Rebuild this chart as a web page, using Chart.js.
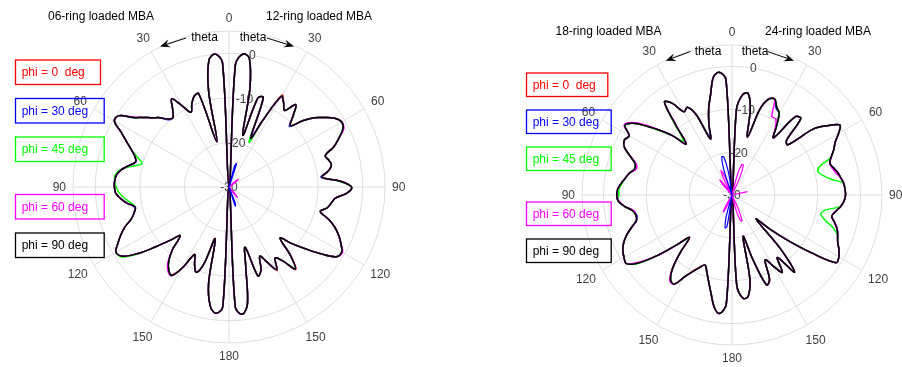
<!DOCTYPE html>
<html>
<head>
<meta charset="utf-8">
<title>MBA radiation patterns</title>
<script src="https://cdn.jsdelivr.net/npm/chart.js@4.4.1/dist/chart.umd.min.js"></script>
<style>
  html, body { margin: 0; padding: 0; background: #fff; }
  #wrap { position: relative; width: 902px; height: 367px; }
  #wrap canvas { position: absolute; left: 0; top: 0; }
</style>
</head>
<body>
<div id="wrap">
  <canvas id="polarLeft" width="902" height="367"></canvas>
  <canvas id="polarRight" width="902" height="367"></canvas>
</div>
<script>
// compass angle of each sample (deg, clockwise from top); 0..180 = theta on the right,
// 183..357 = the mirrored plane on the left (theta = 360 - angle)
const angles = [0,3,6,9,12,15,18,21,24,27,30,33,36,39,42,45,48,51,54,57,60,63,66,69,72,75,78,81,84,87,
  90,93,96,99,102,105,108,111,114,117,120,123,126,129,132,135,138,141,144,147,150,153,156,159,162,165,168,171,174,177,
  180,183,186,189,192,195,198,201,204,207,210,213,216,219,222,225,228,231,234,237,240,243,246,249,252,255,258,261,264,267,
  270,273,276,279,282,285,288,291,294,297,300,303,306,309,312,315,318,321,324,327,330,333,336,339,342,345,348,351,354,357];

const thetaTicks = [0, 30, 60, 90, 120, 150, 180, 150, 120, 90, 60, 30];
const radialTicks = [-30, -20, -10, 0];
const radialGrid = [-30, -20, -10, 0, 5];

const phiLabels = ['phi = 0  deg', 'phi = 30 deg', 'phi = 45 deg', 'phi = 60 deg', 'phi = 90 deg'];
const phiColors = ['#ff0000', '#0000ff', '#00ff00', '#ff00ff', '#000000'];

// gain in dB, 06-ring (left half) / 12-ring (right half) loaded MBA
const left0 = [-30,-2.5,0,-0.8,-7.5,-18,-9,-8.5,-18,-13,-6.2,-7.5,-8.8,-6.2,-8.5,-10.5,-7.8,-5.3,-3.5,-1.7,-0.8,-1.3,-3,-4.8,-7.3,-6.8,-6.5,-7.5,-9,-5,-2.5,-3.5,-6,-6.8,-7.5,-8.8,-6.5,-4.5,-3,-1.8,-0.8,-1.3,-4.5,-8,-11,-13.8,-9.3,-6.2,-9.5,-11,-8.4,-11,-13,-10,-9,-16,-12,-3.5,-1.3,-3,-30,
  -3,-1.5,-3,-8,-18,-12,-9.5,-11,-13,-9,-6.5,-7,-8.5,-11,-14.5,-12,-8.5,-4.5,-1.5,-0.7,-2,-3.4,-5,-7,-8,-8.5,-6.8,-5.5,-4.5,-4.3,-4.3,-4.6,-5.5,-7,-8.3,-7.8,-6.5,-4.8,-2.8,-0.3,-0.6,-3.5,-5.2,-6.8,-8,-9.5,-10,-8.5,-6.4,-9,-11.2,-9.5,-8.2,-8,-19.5,-8,-1.2,0,-2];
const left30 = [-30,-2.5,0,-0.8,-7.5,-18,-9,-8.5,-17.5,-13,-6.5,-7.5,-8.8,-6.2,-8.5,-10.8,-7.8,-5.3,-3.5,-1.7,-0.8,-1.3,-3,-4.8,-7.3,-6.8,-6.5,-7.5,-9.2,-5,-2.5,-3.5,-6,-6.8,-7.5,-8.8,-6.5,-4.5,-3,-1.8,-0.8,-1.3,-4.5,-8,-11,-13.8,-9.5,-6.3,-9.5,-11,-8.6,-11,-13,-10,-9,-16,-12,-3.5,-1.3,-3,-30,
  -3,-1.5,-3,-8,-18,-12,-9.5,-11,-13,-9,-6.3,-7,-8.5,-11,-14.5,-12,-8.5,-4.5,-1.5,-0.7,-2,-3.4,-5,-7,-8,-8.3,-6.8,-5.5,-4.5,-4.3,-4.3,-4.6,-5.5,-7,-8.3,-7.8,-6.5,-4.8,-2.8,-0.3,-0.6,-3.5,-5.2,-6.8,-8,-9.7,-10,-8.5,-6.4,-9,-11.2,-9.5,-8.2,-8,-19.5,-8,-1.2,0,-2];
const left45 = [-30,-2.5,0,-0.8,-7.5,-18,-9,-8.5,-19,-13,-6.5,-7.5,-8.8,-6.2,-8.3,-10.5,-7.8,-5.3,-3.5,-1.7,-0.8,-1.3,-3,-4.8,-7.3,-6.8,-6.5,-7.5,-9,-5.3,-2.5,-3.5,-6,-6.8,-7.5,-8.8,-6.5,-4.5,-3,-1.8,-0.8,-1.3,-4.5,-8,-11,-13.8,-9.5,-6.5,-9.5,-11,-8.6,-11,-13,-10,-9,-16,-12,-3.5,-1.3,-3,-30,
  -3,-1.5,-3,-8,-18,-12,-9.5,-11,-13,-9,-6.3,-7,-8.5,-11,-14.5,-12,-8.5,-4.2,-1.2,-0.7,-2,-3.4,-5,-7,-8,-8.5,-7.6,-6.4,-5.3,-4.7,-4.3,-4.3,-5.3,-7.6,-9.8,-8.4,-6.5,-4.8,-2.8,-0.3,-0.6,-3.5,-5.2,-6.8,-8,-9.5,-10,-8.5,-6.4,-9,-11.2,-9.5,-8.2,-8,-19.5,-8,-1.2,0,-2];
const left60 = [-30,-2.5,0,-0.8,-7.5,-18,-9,-8.5,-18,-13,-6.6,-7.5,-8.8,-6.2,-8.5,-10.5,-7.8,-5.3,-3.5,-1.7,-0.8,-1.1,-3,-4.8,-7.3,-6.8,-6.5,-7.5,-9,-5,-2.5,-3.5,-6,-6.8,-7.5,-8.8,-6.5,-4.5,-3,-1.8,-0.6,-1.3,-4.5,-8,-11,-13.8,-9.5,-6.3,-9.5,-11,-8.6,-11,-13,-10,-9,-16,-12,-3.5,-1.3,-3,-30,
  -3,-1.5,-3,-8,-18,-12,-9.5,-11,-13,-9,-6.3,-6.7,-8.2,-11,-14.5,-12,-8.5,-4.5,-1.5,-0.7,-2,-3.4,-5,-7,-8,-8.5,-6.8,-5.5,-4.5,-4.3,-4.3,-4.6,-5.5,-7,-8.3,-7.8,-6.5,-4.8,-2.8,-0.3,-0.6,-3.3,-5.2,-6.8,-8,-9.5,-10,-8.5,-6.4,-9,-11.2,-9.5,-8.2,-8,-19.5,-8,-1.2,0,-2];
const left90 = [-30,-2.5,0,-0.8,-7.5,-18,-9,-8.5,-18,-13,-6.5,-7.5,-8.8,-6.2,-8.5,-10.5,-7.8,-5.3,-3.5,-1.7,-0.8,-1.3,-3,-4.8,-7.3,-6.8,-6.5,-7.5,-9,-5,-2.5,-3.5,-6,-6.8,-7.5,-8.8,-6.5,-4.5,-3,-1.8,-0.8,-1.3,-4.5,-8,-11,-13.8,-9.5,-6.3,-9.5,-11,-8.6,-11,-13,-10,-9,-16,-12,-3.5,-1.3,-3,-30,
  -3,-1.5,-3,-8,-18,-12,-9.5,-11,-13,-9,-6.3,-7,-8.5,-11,-14.5,-12,-8.5,-4.5,-1.5,-0.7,-2,-3.4,-5,-7,-8,-8.5,-6.8,-5.5,-4.5,-4.3,-4.3,-4.6,-5.5,-7,-8.3,-7.8,-6.5,-4.8,-2.8,-0.3,-0.6,-3.5,-5.2,-6.8,-8,-9.5,-10,-8.5,-6.4,-9,-11.2,-9.5,-8.2,-8,-19.5,-8,-1.2,0,-2];

// gain in dB, 18-ring (left half) / 24-ring (right half) loaded MBA
const right0 = [-30,-10,-6.5,-6,-9.5,-16,-9,-6,-5.5,-7,-8,-11,-13.5,-6.5,-6,-12,-12.5,-5.5,-2.5,0,-1.3,-3,-4,-5.2,-6,-5.5,-4.8,-4.3,-3.8,-3.6,-3.5,-3.8,-4.5,-5.5,-6.2,-5.2,-4.2,-3.6,-3,-2,-1.2,-1,-6.8,-13,-18,-22,-13,-6.8,-12,-8.5,-11,-13,-8.3,-7.5,-14,-20,-10,-6,-5.8,-9,-30,
  -4.5,-2.2,-3.5,-6.5,-9,-11,-12.5,-11.5,-10.2,-8,-5.2,-5.6,-7.8,-12,-16,-12.5,-7.5,-3,-0.6,-0.9,-1.4,-2.3,-3.6,-5.3,-6.9,-7.1,-6.5,-4.8,-3.4,-3.1,-3.3,-4,-4.8,-5.5,-6.5,-6.2,-4.5,-2.5,-1.8,-2.3,-0.2,-1.5,-4.5,-7.5,-10.5,-14,-9.5,-3.2,-4.5,-7.6,-7,-9.5,-16,-12.5,-9,-6,-2.2,-1.2,-3];
const right30 = [-30,-10,-6.5,-6,-9.5,-16,-9,-6,-5.5,-7.3,-8,-11,-13.5,-6.5,-6,-12,-12.5,-5.5,-2.5,0,-1.3,-3,-4,-5.2,-6,-5.5,-4.8,-4.3,-3.8,-3.6,-3.5,-3.8,-4.5,-5.5,-6.2,-5.2,-4.2,-3.6,-3,-2,-1.2,-1,-7,-13,-18,-22,-13,-6.8,-12,-8.5,-11,-13,-8.5,-7.5,-14,-20,-10,-6,-5.8,-9,-30,
  -4.5,-2.2,-3.5,-6.5,-9,-11,-12.5,-11.5,-10,-8,-5.2,-5.6,-8,-12,-15.5,-12.5,-7.5,-3,-0.6,-0.9,-1.4,-2.3,-3.6,-5.3,-6.9,-7.3,-6.5,-4.8,-3.4,-3.1,-3.3,-4,-4.8,-5.5,-6.5,-6.2,-4.5,-2.5,-1.8,-2.3,-0.2,-1.5,-4.5,-7.5,-10.5,-14,-9.5,-3.2,-4.5,-7.6,-7,-9.5,-15.5,-12.5,-9,-6,-2.2,-1.2,-3];
const right45 = [-30,-10,-6.5,-6,-9.5,-16,-9,-6,-5.5,-7,-8,-11,-13.5,-6.5,-6,-12,-12.5,-5.5,-2.5,0,-1.3,-3,-4,-5.2,-8.5,-9.2,-8.2,-6.5,-3.8,-3.6,-3.5,-3.8,-4.5,-7.8,-8.8,-7.6,-5.2,-3.6,-3,-2,-1.2,-1,-7,-13,-18,-22,-13,-6.8,-12,-8.5,-11,-13,-8.5,-7.5,-14,-20,-10,-6,-5.8,-9,-30,
  -4.5,-2.2,-3.5,-6.5,-9,-11,-12.5,-11.5,-10,-8,-5.2,-5.6,-8,-12,-15.6,-12.5,-7.5,-2.8,-0.6,-0.9,-1.4,-2.3,-3.6,-5.3,-6.9,-7.1,-6.5,-4.8,-3.4,-3.6,-3.6,-4.2,-4.8,-5.5,-6.5,-6.2,-4.5,-2.5,-1.8,-2.3,-0.2,-1.5,-4.5,-7.8,-10.5,-13,-8.8,-3.2,-4.5,-7.6,-7,-9.5,-16,-12.5,-9,-6,-2.2,-1.2,-3];
const right60 = [-30,-10,-6.5,-6,-9.5,-16,-9,-6,-5.5,-9.5,-9.5,-11.5,-13.5,-6.5,-6,-12,-12.5,-5.5,-2.5,0,-1.3,-3,-4,-5.2,-6,-5.8,-5.2,-4.3,-3.8,-3.6,-3.5,-3.8,-4.5,-5.5,-6.2,-5.2,-4.2,-3.6,-3,-2,-1.2,-1,-7,-13,-18,-22,-13,-6.8,-12,-8.5,-11,-13,-8.5,-7.5,-14,-20,-10,-6,-5.8,-9,-30,
  -4.5,-2.2,-3.5,-6.5,-9,-11,-12.5,-11.5,-10,-8,-5.2,-5.3,-8,-12,-16,-12.5,-7.5,-3.4,-0.6,-0.9,-1.4,-2.3,-3.6,-5.3,-6.9,-7.1,-6.8,-4.8,-3.6,-3.1,-3.3,-4,-4.8,-5.5,-6.8,-6.5,-4.5,-2.5,-1.8,-2.3,0,-1.2,-4,-7.5,-10.5,-14,-9.5,-3.2,-4.5,-7.6,-7,-9.5,-16,-12.5,-9,-6,-2.2,-1.2,-3];
const right90 = [-30,-10,-6.5,-6,-9.5,-16,-9,-6,-5.5,-7,-8,-11,-13.5,-6.5,-6,-12,-12.5,-5.5,-2.5,0,-1.3,-3,-4,-5.2,-6,-5.5,-4.8,-4.3,-3.8,-3.6,-3.5,-3.8,-4.5,-5.5,-6.2,-5.2,-4.2,-3.6,-3,-2,-1.2,-1,-7,-13,-18,-22,-13,-6.8,-12,-8.5,-11,-13,-8.5,-7.5,-14,-20,-10,-6,-5.8,-9,-30,
  -4.5,-2.2,-3.5,-6.5,-9,-11,-12.5,-11.5,-10,-8,-5.2,-5.6,-8,-12,-16,-12.5,-7.5,-3,-0.6,-0.9,-1.4,-2.3,-3.6,-5.3,-6.9,-7.1,-6.5,-4.8,-3.4,-3.1,-3.3,-4,-4.8,-5.5,-6.5,-6.2,-4.5,-2.5,-1.8,-2.3,-0.2,-1.5,-4.5,-7.5,-10.5,-14,-9.5,-3.2,-4.5,-7.6,-7,-9.5,-16,-12.5,-9,-6,-2.2,-1.2,-3];

// small low-level lobes close to the -30 dB centre (angle -> dB)
const left30Petals = {12: -30, 15: -25, 18: -24.5, 21: -30, 156: -30, 159: -26, 162: -25.5, 165: -30};
const left60Petals = {45: -30, 48: -28, 51: -27.3, 54: -28.5, 57: -30, 135: -30, 138: -28.2, 141: -27, 144: -28.5, 147: -30};
const right30Petals = {186: -30, 189: -22.5, 192: -22.2, 195: -25, 198: -30, 339: -30, 342: -24, 345: -20.8, 348: -21, 351: -24.5, 354: -30};
const right60Petals = {12: -30, 15: -25, 18: -22.5, 21: -22.6, 24: -25.5, 27: -30, 75: -30, 78: -26.3, 81: -30,
  153: -30, 156: -26, 159: -23.5, 162: -23.8, 165: -26.5, 168: -30,
  201: -30, 204: -27, 207: -25.6, 210: -27.5, 213: -30,
  315: -30, 318: -27, 321: -25.5, 324: -27.5, 327: -30, 330: -30, 333: -25.5, 336: -23.7, 339: -25.5, 342: -30};

const gridColor = '#dedede';
const axisText = '#404040';
const font12 = '12px "Liberation Sans", Arial, Helvetica, sans-serif';

function buildSets(series, petals) {
  const sets = series.map((vals, k) => ({
    label: phiLabels[k],
    data: vals,
    borderColor: phiColors[k],
    borderWidth: 1.5,
    pointRadius: 0,
    fill: false,
    tension: 0.35,
    order: series.length - k   // phi = 90 ends up on top
  }));
  petals.forEach(([k, p]) => {
    sets.push({
      label: phiLabels[k],
      data: angles.map(a => (a in p ? p[a] : null)),
      borderColor: phiColors[k],
      borderWidth: 1.2,
      pointRadius: 0,
      fill: false,
      spanGaps: false,
      tension: 0.35,
      order: 0
    });
  });
  return sets;
}

function drawArrow(ctx, x0, y0, x1, y1) {
  const a = Math.atan2(y1 - y0, x1 - x0);
  const c = Math.cos(a), s = Math.sin(a);
  const L = 10, W = 4;
  ctx.beginPath();
  ctx.moveTo(x0, y0);
  ctx.lineTo(x1 - 6 * c, y1 - 6 * s);
  ctx.stroke();
  ctx.beginPath();
  ctx.moveTo(x1, y1);
  ctx.lineTo(x1 - L * c + W * s, y1 - L * s - W * c);
  ctx.lineTo(x1 - 0.65 * L * c, y1 - 0.65 * L * s);
  ctx.lineTo(x1 - L * c - W * s, y1 - L * s + W * c);
  ctx.closePath();
  ctx.fill();
}

const polarDecor = {
  id: 'polarDecor',
  beforeDatasetsDraw(chart, args, o) {
    const sc = chart.scales.r;
    const ctx = chart.ctx;
    ctx.save();
    ctx.font = font12;
    ctx.fillStyle = axisText;
    ctx.textAlign = 'center';
    ctx.textBaseline = 'middle';
    // dB labels on a spoke just clockwise of the top
    const ta = o.tickAngle * Math.PI / 180;
    radialTicks.forEach(v => {
      const d = sc.getDistanceFromCenterForValue(v);
      ctx.fillText(String(v), sc.xCenter + d * Math.sin(ta), sc.yCenter - d * Math.cos(ta) + 0.5);
    });
    // theta labels every 30 deg round the rim
    thetaTicks.forEach((t, k) => {
      const idx = angles.indexOf(k * 30);
      const ang = sc.getIndexAngle(idx);
      const halfW = ctx.measureText(String(t)).width / 2;
      const off = 7 + halfW * Math.abs(Math.sin(ang)) + 6 * Math.abs(Math.cos(ang));
      const p = sc.getPointPosition(idx, sc.drawingArea + off);
      ctx.fillText(String(t), p.x, p.y + 0.5);
    });
    ctx.restore();
  },
  afterDraw(chart, args, o) {
    const ctx = chart.ctx;
    ctx.save();
    ctx.font = font12;
    ctx.textBaseline = 'middle';
    ctx.textAlign = 'center';
    ctx.fillStyle = '#000';
    o.titles.forEach(t => ctx.fillText(t.text, t.x, t.y));

    ctx.strokeStyle = '#000';
    ctx.lineWidth = 1;
    o.thetas.forEach(t => {
      ctx.fillText('theta', t.x, t.y);
      drawArrow(ctx, t.from[0], t.from[1], t.to[0], t.to[1]);
    });

    const lg = o.legend;
    ctx.textAlign = 'left';
    ctx.lineWidth = 1.3;
    lg.tops.forEach((top, k) => {
      ctx.strokeStyle = phiColors[k];
      ctx.strokeRect(lg.x + 0.5, top + 0.5, lg.widths[k], lg.h);
      ctx.fillStyle = phiColors[k];
      ctx.fillText(phiLabels[k], lg.x + 6.7, top + lg.h / 2 + 1);
    });
    ctx.restore();
  }
};

function makePolar(id, series, petals, padding, decor) {
  return new Chart(document.getElementById(id), {
    type: 'radar',
    data: { labels: angles, datasets: buildSets(series, petals) },
    options: {
      responsive: false,
      animation: false,
      events: [],
      layout: { padding },
      plugins: { legend: { display: false }, tooltip: { enabled: false }, polarDecor: decor },
      scales: {
        r: {
          min: -30,
          max: 5,
          afterBuildTicks: s => { s.ticks = radialGrid.map(v => ({ value: v })); },
          ticks: { display: false },
          pointLabels: { display: false },
          grid: { circular: true, color: gridColor, lineWidth: 1 },
          angleLines: {
            display: true,
            color: gridColor,
            lineWidth: c => (angles[c.index] % 30 === 0 ? 1 : 0)
          }
        }
      }
    },
    plugins: [polarDecor]
  });
}

makePolar('polarLeft', [left0, left30, left45, left60, left90], [[1, left30Petals], [3, left60Petals]],
  { left: 73, top: 31, right: 516, bottom: 23 },
  {
    tickAngle: 10,
    titles: [{ text: '06-ring loaded MBA', x: 101, y: 17 }, { text: '12-ring loaded MBA', x: 319, y: 17 }],
    thetas: [{ x: 204.5, y: 38, from: [186, 38], to: [160, 46.5] }, { x: 253, y: 38, from: [267, 38], to: [294, 46.5] }],
    legend: { x: 15, tops: [59.5, 98, 136.5, 194, 232.5], widths: [85, 88.7, 88.7, 88.7, 88.7], h: 24.5 }
  });

makePolar('polarRight', [right0, right30, right45, right60, right90], [[1, right30Petals], [3, right60Petals]],
  { left: 582, top: 45, right: 19, bottom: 21 },
  {
    tickAngle: 9.5,
    titles: [{ text: '18-ring loaded MBA', x: 608.5, y: 32 }, { text: '24-ring loaded MBA', x: 818, y: 32 }],
    thetas: [{ x: 708, y: 51.5, from: [690.5, 51.5], to: [665.7, 60.7] }, { x: 755, y: 51.5, from: [767.5, 51.5], to: [794, 60.7] }],
    legend: { x: 526, tops: [72.5, 109.5, 146.5, 201.5, 238.5], widths: [81.3, 84.7, 84.7, 84.7, 84.7], h: 23.5 }
  });
</script>
</body>
</html>
